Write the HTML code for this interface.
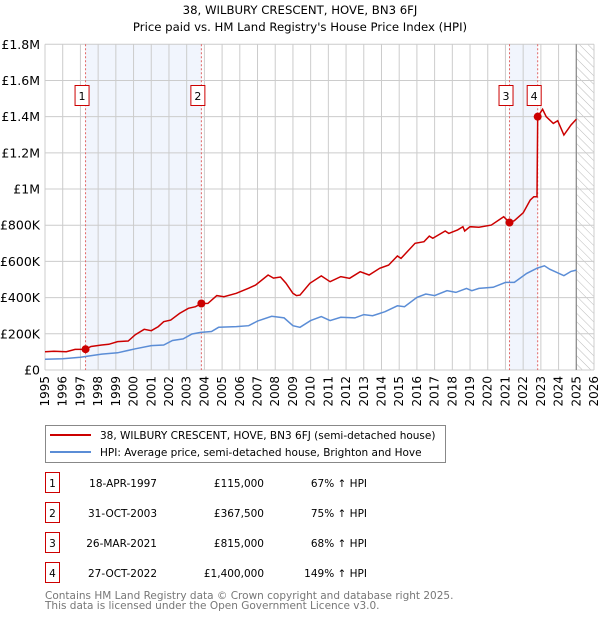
<!DOCTYPE html>
<html><head><meta charset="utf-8"><style>
body{margin:0;background:#fff;}
svg{display:block;font-family:"DejaVu Sans","Liberation Sans",sans-serif;}
</style></head><body>
<svg id="chart" width="600" height="620" viewBox="0 0 600 620" xmlns="http://www.w3.org/2000/svg">
<defs>
<pattern id="hatch" patternUnits="userSpaceOnUse" width="6" height="6" patternTransform="rotate(-45)">
<line x1="0" y1="0" x2="0" y2="6" stroke="#bbb" stroke-width="1"/>
</pattern>
</defs>
<text x="300" y="14" text-anchor="middle" font-size="11.7">38, WILBURY CRESCENT, HOVE, BN3 6FJ</text>
<text x="300" y="31" text-anchor="middle" font-size="11.7">Price paid vs. HM Land Registry's House Price Index (HPI)</text>
<g id="plot"></g>
<rect x="45.5" y="425.5" width="400" height="37" fill="#fff" stroke="#888"/>
<line x1="50" y1="435" x2="91" y2="435" stroke="#cc0000" stroke-width="2"/>
<text x="100" y="439" font-size="10.5">38, WILBURY CRESCENT, HOVE, BN3 6FJ (semi-detached house)</text>
<line x1="50" y1="452" x2="91" y2="452" stroke="#5b8dd6" stroke-width="2"/>
<text x="100" y="456" font-size="10.5">HPI: Average price, semi-detached house, Brighton and Hove</text>
<g id="table" font-size="10.5"></g>
<text x="45" y="599" font-size="10.5" fill="#777">Contains HM Land Registry data © Crown copyright and database right 2025.</text>
<text x="45" y="609" font-size="10.5" fill="#777">This data is licensed under the Open Government Licence v3.0.</text>
</svg>
<script>
const yTickValues=[0,200000,400000,600000,800000,1000000,1200000,1400000,1600000,1800000];
const yTickLabels=["£0","£200K","£400K","£600K","£800K","£1M","£1.2M","£1.4M","£1.6M","£1.8M"];
const xYears=[1995,1996,1997,1998,1999,2000,2001,2002,2003,2004,2005,2006,2007,2008,2009,2010,2011,2012,2013,2014,2015,2016,2017,2018,2019,2020,2021,2022,2023,2024,2025,2026];
const redT=[1995.0,1995.5,1996.2,1996.7,1997.29,1997.6,1998.2,1998.6,1999.1,1999.7,2000.1,2000.6,2001.0,2001.4,2001.7,2002.1,2002.6,2003.1,2003.5,2003.83,2004.2,2004.7,2005.1,2005.8,2006.5,2006.9,2007.6,2007.9,2008.3,2008.6,2009.0,2009.2,2009.4,2009.96,2010.6,2011.1,2011.7,2012.2,2012.8,2013.3,2013.9,2014.4,2014.9,2015.1,2015.9,2016.4,2016.7,2016.9,2017.6,2017.8,2018.3,2018.6,2018.7,2019.0,2019.5,2020.2,2020.9,2021.23,2021.5,2022.0,2022.4,2022.6,2022.78,2022.82,2023.1,2023.3,2023.7,2023.95,2024.3,2024.7,2025.0];
const redV=[101,104,101,114,115,130,138,142,157,160,195,225,217,240,267,276,313,341,350,367.5,368,411,405,424,452,470,525,508,514,480,424,411,414,479,520,488,516,507,543,525,562,580,630,617,700,709,740,728,768,755,774,792,768,792,789,801,847,815,825,869,939,958,958,1400,1441,1400,1363,1378,1299,1354,1386];
const blueT=[1995.0,1996.0,1997.0,1998.2,1999.1,2000.1,2001.0,2001.7,2002.2,2002.8,2003.3,2003.8,2004.4,2004.8,2005.8,2006.5,2007.0,2007.8,2008.5,2009.0,2009.4,2010.0,2010.6,2011.1,2011.7,2012.5,2013.0,2013.5,2014.2,2014.9,2015.3,2016.0,2016.5,2017.0,2017.7,2018.2,2018.8,2019.1,2019.5,2020.3,2021.0,2021.5,2022.2,2022.8,2023.2,2023.5,2024.3,2024.7,2025.0];
const blueV=[59,62,70,88,95,117,135,138,163,172,199,208,213,236,240,245,270,297,288,245,236,273,295,273,291,288,306,300,322,355,350,401,420,411,438,429,451,438,451,457,484,484,534,563,576,557,521,545,552];
const saleT=[1997.29,2003.83,2021.23,2022.82];
const saleV=[115,367.5,815,1400];
const saleLabels=["1","2","3","4"];
const saleDates=["18-APR-1997","31-OCT-2003","26-MAR-2021","27-OCT-2022"];
const salePrices=["£115,000","£367,500","£815,000","£1,400,000"];
const saleHpi=["67% ↑ HPI","75% ↑ HPI","68% ↑ HPI","149% ↑ HPI"];

const NS="http://www.w3.org/2000/svg";
const L=45,R=594,T=44.3,B=370;
const x=t=>L+(t-1995)/(2026-1995)*(R-L);
const y=v=>B-v/1800000*(B-T);
const yk=v=>y(v*1000);
const plot=document.getElementById('plot');
function mk(tag,attrs,parent){const e=document.createElementNS(NS,tag);for(const k in attrs)e.setAttribute(k,attrs[k]);(parent||plot).appendChild(e);return e;}
for(let i=0;i<saleT.length;i+=2){
 const s=mk('rect',{x:x(saleT[i]),y:T,width:x(saleT[i+1])-x(saleT[i]),height:B-T,fill:'#eef3fc',opacity:0.8});
 
 
}
const h=mk('rect',{x:x(2025),y:T,width:R-x(2025),height:B-T,fill:'url(#hatch)'});


xYears.forEach(yr=>{
 const g=mk('line',{x1:x(yr),x2:x(yr),y1:T,y2:B,stroke:'#ccc','stroke-width':1});
 
 
 const t=mk('text',{x:0,y:0,'font-size':12,'text-anchor':'end','dominant-baseline':'central',transform:`translate(${x(yr)},${B+6}) rotate(-90)`});
 t.textContent=yr;
 
 
});
yTickValues.forEach((v,i)=>{
 const g=mk('line',{x1:L,x2:R,y1:y(v),y2:y(v),stroke:'#ccc','stroke-width':1});
 
 
 const t=mk('text',{x:L-5,y:y(v)+4.5,'font-size':12.5,'text-anchor':'end'});
 t.textContent=yTickLabels[i];
 
 
});
const nl=mk('line',{x1:x(2025),x2:x(2025),y1:T,y2:B,stroke:'#888','stroke-width':1.2});


saleT.forEach((t,i)=>{
 const l=mk('line',{x1:x(t),x2:x(t),y1:T,y2:B,stroke:'#e06666','stroke-width':1,'stroke-dasharray':'2,2'});
 
 
});
const bp=blueT.map((t,i)=>x(t).toFixed(1)+','+yk(blueV[i]).toFixed(1)).join(' ');
const bl=mk('polyline',{points:bp,fill:'none',stroke:'#5b8dd6','stroke-width':1.5});


const rp=redT.map((t,i)=>x(t).toFixed(1)+','+yk(redV[i]).toFixed(1)).join(' ');
const rl=mk('polyline',{points:rp,fill:'none',stroke:'#cc0000','stroke-width':1.5});


saleT.forEach((t,i)=>{
 const c=mk('circle',{cx:x(t),cy:yk(saleV[i]),r:4,fill:'#cc0000'});
 
 
 const bx=mk('rect',{x:x(t)-10.5,y:85.5,width:14,height:20,fill:'#fff',stroke:'#cc0000'});
 
 
 const tx=mk('text',{x:x(t)-3.5,y:100,'font-size':11,'text-anchor':'middle'});
 tx.textContent=saleLabels[i];
 
 
});
const tb=document.getElementById('table');
saleT.forEach((t,i)=>{
 const cy=483+i*30;
 const r=mk('rect',{x:45.5,y:cy-10.5,width:14,height:20,fill:'#fff',stroke:'#cc0000'},tb);
 
 
 const cells=[[52.5,'middle',saleLabels[i]],[157,'end',saleDates[i]],[264,'end',salePrices[i]],[367,'end',saleHpi[i]]];
 cells.forEach(c=>{
  const e=mk('text',{x:c[0],y:cy+4,'text-anchor':c[1]},tb);
  e.textContent=c[2];
  
  
 });
});
</script>
</body></html>
